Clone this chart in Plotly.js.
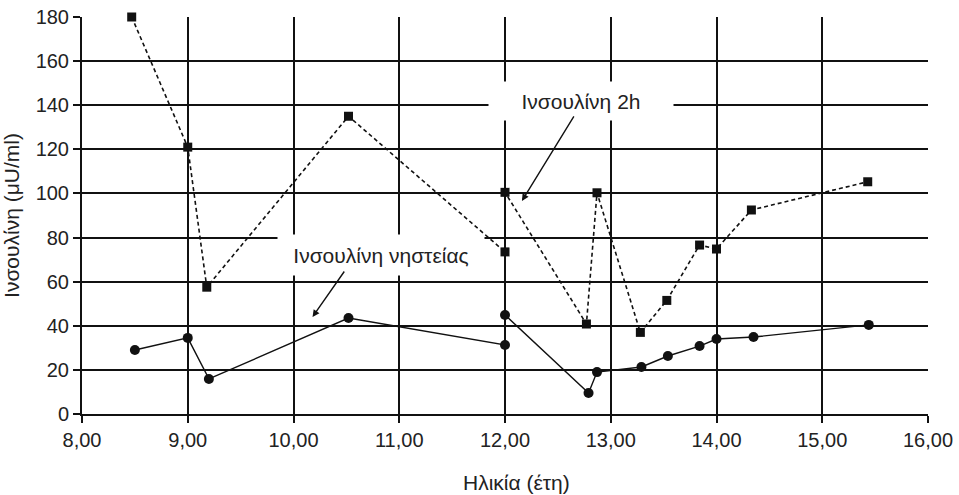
<!DOCTYPE html>
<html>
<head>
<meta charset="utf-8">
<script src="https://cdn.plot.ly/plotly-3.0.1.min.js"></script>
<style>html,body{margin:0;padding:0;background:#fff;}#chart{width:959px;height:495px;}</style>
</head>
<body>
<div id="chart"></div>
<script>
// Data (in the order the lines join them)
const ageInsulin2h = [8.47, 9.0, 9.18, 10.52, 12.0, 12.0, 12.77, 12.87, 13.28, 13.53, 13.84, 14.0, 14.33, 15.43];
const insulin2h    = [180, 121, 57.5, 135, 73.5, 100.5, 40.8, 100.3, 37, 51.5, 76.6, 74.8, 92.5, 105.3];
const ageFasting   = [8.5, 9.0, 9.2, 10.52, 12.0, 12.0, 12.79, 12.87, 13.29, 13.54, 13.84, 14.0, 14.35, 15.44];
const insulinFasting = [29, 34.5, 15.9, 43.5, 31.3, 44.9, 9.5, 19, 21.3, 26.3, 30.8, 34, 34.9, 40.4];
const xTickVals = [8, 9, 10, 11, 12, 13, 14, 15, 16];
const xTickText = ["8,00", "9,00", "10,00", "11,00", "12,00", "13,00", "14,00", "15,00", "16,00"];
const yTickVals = [0, 20, 40, 60, 80, 100, 120, 140, 160, 180];
const label2h = "Ινσουλίνη 2h";
const labelFasting = "Ινσουλίνη νηστείας";
const xTitle = "Ηλικία (έτη)";
const yTitle = "Ινσουλίνη (μU/ml)";

const FONT = "Liberation Sans, Arial, sans-serif";
const INK = "#111";
const TXT = "#222";

const traces = [
  {
    x: ageInsulin2h, y: insulin2h, name: label2h, type: "scatter", mode: "lines+markers",
    line: {color: INK, width: 1.6, dash: "4px,3px"},
    marker: {symbol: "square", size: 9, color: INK},
    cliponaxis: false
  },
  {
    x: ageFasting, y: insulinFasting, name: labelFasting, type: "scatter", mode: "lines+markers",
    line: {color: INK, width: 1.4},
    marker: {symbol: "circle", size: 10, color: INK},
    cliponaxis: false
  }
];

const layout = {
  width: 959, height: 495,
  margin: {l: 82, r: 31, t: 17, b: 81},
  paper_bgcolor: "#fff", plot_bgcolor: "#fff",
  showlegend: false,
  font: {family: FONT, color: TXT, size: 20},
  xaxis: {
    range: [8, 16], tickvals: xTickVals, ticktext: xTickText,
    showgrid: true, gridcolor: INK, gridwidth: 2,
    zeroline: false, showline: true, linecolor: INK, linewidth: 2,
    ticks: "outside", ticklen: 7, tickcolor: INK, tickwidth: 2,
    tickfont: {family: FONT, size: 20, color: TXT}, fixedrange: true
  },
  yaxis: {
    range: [0, 180], tickvals: yTickVals,
    showgrid: true, gridcolor: INK, gridwidth: 2,
    zeroline: false, showline: true, linecolor: INK, linewidth: 2,
    ticks: "outside", ticklen: 7, tickcolor: INK, tickwidth: 2,
    tickfont: {family: FONT, size: 20, color: TXT},
    title: {text: yTitle, font: {family: FONT, size: 21, color: TXT}, standoff: 10},
    fixedrange: true
  },
  annotations: [
    {
      xref: "x", yref: "y", x: 12.72, y: 142, text: label2h, showarrow: false,
      font: {family: FONT, size: 21, color: TXT},
      bgcolor: "#fff", width: 182, height: 36
    },
    {
      xref: "x", yref: "y", x: 12.16, y: 96.6, axref: "x", ayref: "y", ax: 12.66, ay: 135.6,
      text: "", showarrow: true, arrowhead: 2, arrowsize: 1, arrowwidth: 1.4, arrowcolor: INK
    },
    {
      xref: "x", yref: "y", x: 10.83, y: 72, text: labelFasting, showarrow: false,
      font: {family: FONT, size: 21, color: TXT},
      bgcolor: "#fff", width: 204, height: 38
    },
    {
      xref: "x", yref: "y", x: 10.18, y: 44.0, axref: "x", ayref: "y", ax: 10.49, ay: 65.3,
      text: "", showarrow: true, arrowhead: 2, arrowsize: 1, arrowwidth: 1.4, arrowcolor: INK
    },
    {
      xref: "paper", yref: "paper", x: (516 - 82) / 846, y: (414 - 482) / 397, yanchor: "middle",
      text: xTitle, showarrow: false, font: {family: FONT, size: 21, color: TXT}
    }
  ]
};

Plotly.newPlot("chart", traces, layout, {displayModeBar: false, staticPlot: true});
</script>
</body>
</html>
